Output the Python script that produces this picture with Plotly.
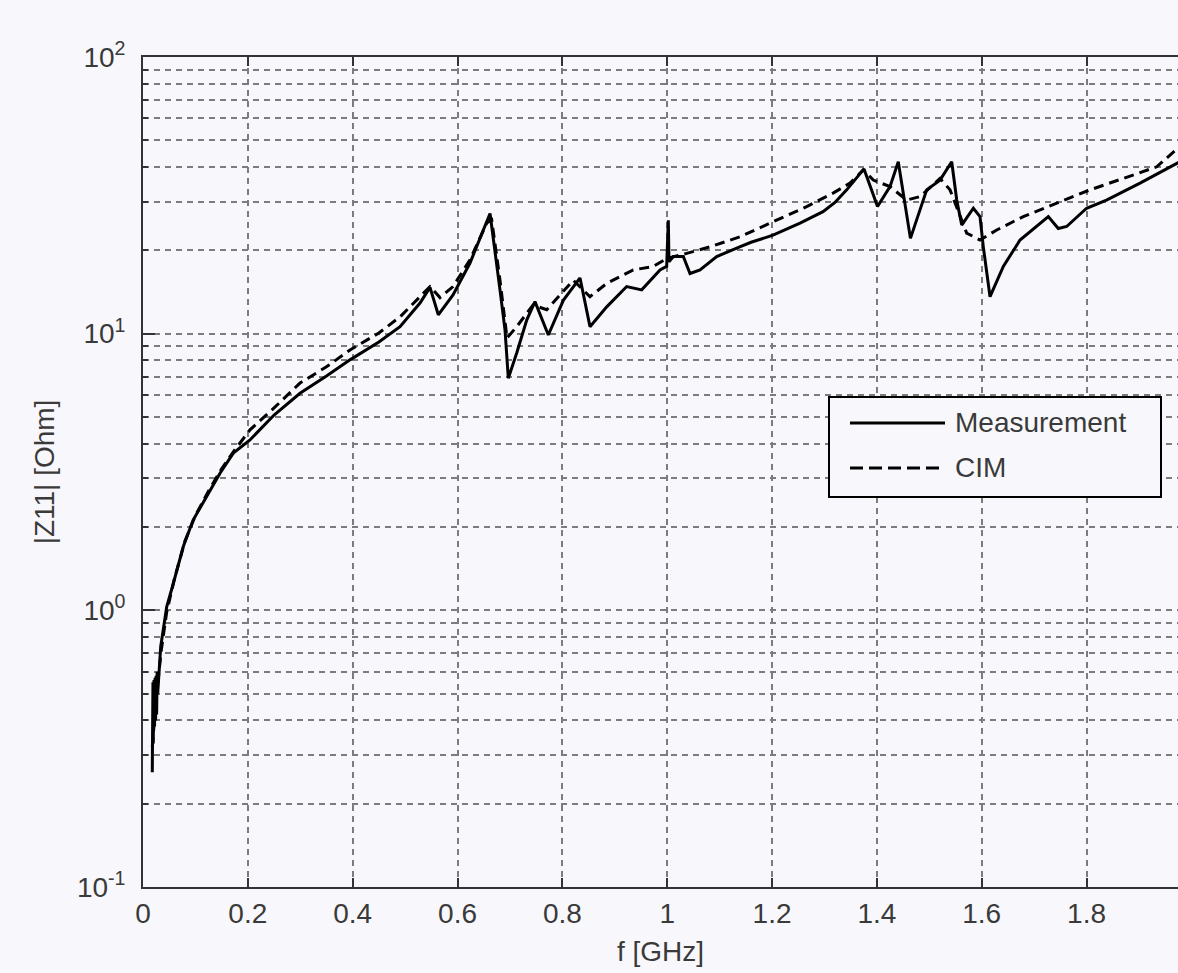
import plotly.graph_objects as go

# Measurement |Z11| (Ohm) vs f (GHz)
meas_f = [0.0177, 0.019, 0.0195, 0.021, 0.022, 0.023, 0.024, 0.025, 0.026, 0.027, 0.028,
          0.0338, 0.0452, 0.0578, 0.0769, 0.0956, 0.1215, 0.1469, 0.1723, 0.19, 0.2041,
          0.25, 0.2995, 0.35, 0.3949, 0.45, 0.4903, 0.5284, 0.5475, 0.5633, 0.5914, 0.6238,
          0.6461, 0.662,
          0.681, 0.6906, 0.6969, 0.7129, 0.732, 0.7478, 0.7732, 0.8018, 0.8337, 0.8527,
          0.8846, 0.9227, 0.9514, 0.9863, 0.999, 1.0021, 1.0034, 1.0116, 1.0307, 1.0435,
          1.0626, 1.0944, 1.1383, 1.16, 1.2018, 1.23, 1.2534, 1.2972, 1.32, 1.3424, 1.3754,
          1.4012, 1.425,
          1.4408, 1.464, 1.495, 1.5204, 1.5427, 1.5523, 1.5618, 1.584, 1.5967, 1.603,
          1.6158, 1.6412, 1.673, 1.727, 1.746, 1.762, 1.80, 1.838, 1.902, 1.974, 2.0]
meas_z = [0.26, 0.55, 0.33, 0.56, 0.38, 0.57, 0.40, 0.58, 0.42, 0.60, 0.50,
          0.74, 1.03, 1.25, 1.70, 2.12, 2.58, 3.13, 3.70, 3.95, 4.13,
          5.08, 6.09, 7.03, 8.04, 9.33, 10.6, 12.9, 14.7, 11.7, 13.8, 18.0,
          22.7, 27.2,
          14.4, 10.3, 6.9, 8.51, 11.2, 13.05, 9.89, 13.2, 15.9, 10.6,
          12.5, 14.8, 14.4, 17.0, 17.5, 25.7, 18.2, 19.0, 19.0, 16.5,
          17.0, 19.0, 20.6, 21.4, 22.7, 24.0, 25.1, 27.6, 29.8, 33.1, 39.4,
          28.8, 34.0,
          41.8, 22.1, 33.1, 35.9, 41.8, 30.4, 24.7, 28.4, 26.5, 20.6,
          13.6, 17.5, 21.8, 26.5, 24.0, 24.4, 28.4, 30.4, 35.0, 41.4, 44.0]

# CIM model |Z11| (Ohm) vs f (GHz)
cim_f = [0.0177, 0.025, 0.035, 0.045, 0.06, 0.08, 0.10, 0.125, 0.15, 0.175, 0.2041,
         0.25, 0.2995, 0.35, 0.3949, 0.45, 0.4903, 0.5475, 0.5666, 0.5914, 0.6238, 0.6557,
         0.6652,
         0.681, 0.6944, 0.7129, 0.744, 0.7701, 0.8209, 0.8527, 0.8846, 0.9353, 0.9735,
         0.999, 1.0372, 1.0817, 1.1389, 1.2018, 1.2661, 1.3163, 1.3487, 1.374, 1.3932,
         1.425, 1.4569, 1.4823, 1.5204, 1.5395, 1.5586, 1.5713, 1.5967, 1.6286, 1.6793,
         1.743, 1.8066, 1.870, 1.9338, 1.974, 2.0]
cim_z = [0.32, 0.48, 0.72, 0.98, 1.30, 1.78, 2.20, 2.70, 3.25, 3.80, 4.49,
         5.39, 6.63, 7.59, 8.73, 10.06, 11.5, 14.8, 13.5, 14.8, 18.5, 25.1,
         25.8,
         15.6, 9.65, 10.6, 12.7, 12.2, 15.6, 13.6, 15.2, 17.0, 17.5,
         18.7, 19.5, 20.6, 22.4, 25.4, 28.8, 32.2, 35.0, 39.1, 35.9,
         34.0, 30.4, 31.3, 36.4, 33.1, 26.5, 23.1, 21.8, 23.7, 26.5,
         29.6, 33.1, 36.4, 40.1, 46.8, 49.0]

x_ticks = [0, 0.2, 0.4, 0.6, 0.8, 1, 1.2, 1.4, 1.6, 1.8, 2]
x_ticktext = ["0", "0.2", "0.4", "0.6", "0.8", "1", "1.2", "1.4", "1.6", "1.8", "2"]
y_ticks = [0.1, 1, 10, 100]
y_ticktext = ["10<sup>-1</sup>", "10<sup>0</sup>", "10<sup>1</sup>", "10<sup>2</sup>"]
legend_names = ["Measurement", "CIM"]

BG = "#f8f8fc"
FONT = "Liberation Sans, Arial, sans-serif"
TXT = "#3a3a3a"
GRID = "#7c7c7c"
AX = "#333333"

fig = go.Figure()
fig.add_trace(go.Scatter(x=meas_f, y=meas_z, mode="lines", name=legend_names[0],
                         line=dict(color="black", width=3), showlegend=False))
fig.add_trace(go.Scatter(x=cim_f, y=cim_z, mode="lines", name=legend_names[1],
                         line=dict(color="black", width=3, dash="10px,6px"),
                         showlegend=False))

W, H = 1178, 973
L, R, T, B = 143, 0, 57, 86
x_max = 1.9744

fig.update_layout(
    width=W, height=H,
    margin=dict(l=L, r=R, t=T, b=B),
    paper_bgcolor=BG, plot_bgcolor=BG,
    font=dict(family=FONT, size=28, color=TXT),
    showlegend=False,
)
fig.update_xaxes(
    range=[0, x_max], tickvals=x_ticks[:-1], ticktext=x_ticktext[:-1],
    showline=True, linecolor=AX, linewidth=1.8, mirror="ticks",
    ticks="inside", ticklen=9, tickcolor=AX, tickwidth=1.8,
    showgrid=True, gridcolor=GRID, gridwidth=1.6, griddash="6px,5px",
    zeroline=False,
    title=dict(text="f [GHz]", font=dict(size=28, color=TXT), standoff=14),
    tickfont=dict(size=28, color=TXT),
)
fig.update_yaxes(
    type="log", range=[-1, 2], tickvals=y_ticks, ticktext=y_ticktext,
    showline=True, linecolor=AX, linewidth=1.8, mirror=False,
    ticks="inside", ticklen=12, tickcolor=AX, tickwidth=1.8,
    showgrid=True, gridcolor=GRID, gridwidth=1.6, griddash="6px,5px",
    zeroline=False, ticklabelstandoff=10,
    minor=dict(dtick="D1", showgrid=True, gridcolor=GRID, gridwidth=1.6,
               griddash="6px,5px", ticks="inside", ticklen=5,
               tickcolor=AX, tickwidth=1.8),
    title=dict(text="|Z11| [Ohm]", font=dict(size=28, color=TXT), standoff=14),
    tickfont=dict(size=28, color=TXT),
)

# partially visible last x tick label
fig.add_annotation(x=(1190 - L) / (W - L), y=0, xref="paper", yref="paper",
                   text=x_ticktext[-1], showarrow=False, xanchor="center",
                   yanchor="top", yshift=-8, font=dict(size=28, color=TXT))

# legend box drawn in paper coordinates
def px(xp):
    return (xp - L) / (W - L - R)

def py(yp):
    return (H - B - yp) / (H - B - T)

fig.add_shape(type="rect", xref="paper", yref="paper",
              x0=px(829), x1=px(1161), y0=py(497), y1=py(397),
              line=dict(color="black", width=2), fillcolor=BG, layer="above")
fig.add_shape(type="line", xref="paper", yref="paper",
              x0=px(850), x1=px(945), y0=py(423), y1=py(423),
              line=dict(color="black", width=3), layer="above")
fig.add_shape(type="line", xref="paper", yref="paper",
              x0=px(850), x1=px(945), y0=py(468), y1=py(468),
              line=dict(color="black", width=3, dash="13px,6px"), layer="above")
for name, yy in zip(legend_names, [423, 468]):
    fig.add_annotation(x=px(953), y=py(yy), xref="paper", yref="paper",
                       text=name, showarrow=False, xanchor="left", yanchor="middle",
                       font=dict(size=28, color=TXT))

fig.write_html("out.html")
